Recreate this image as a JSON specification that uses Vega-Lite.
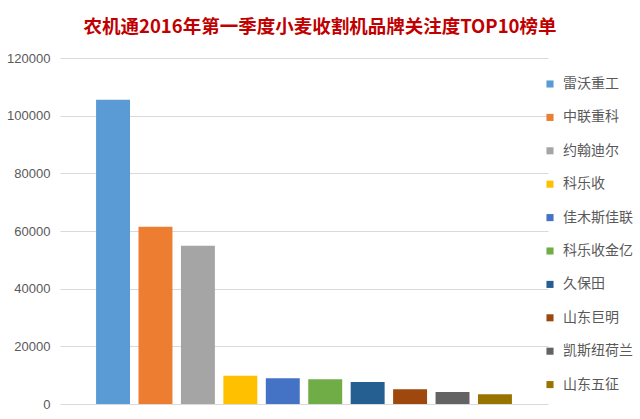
{
  "$schema": "https://vega.github.io/schema/vega-lite/v6.json",
  "width": 488,
  "height": 346,
  "autosize": {"type": "none"},
  "padding": {"left": 60, "top": 58, "right": 92, "bottom": 15},
  "background": "white",
  "title": {
    "text": "农机通2016年第一季度小麦收割机品牌关注度TOP10榜单",
    "font": "Noto Sans CJK SC",
    "fontSize": 18.5,
    "fontWeight": "bold",
    "color": "#C00000",
    "anchor": "middle",
    "frame": "group",
    "dx": 16,
    "offset": 16
  },
  "data": {
    "values": [
      {"brand": "雷沃重工", "value": 105500},
      {"brand": "中联重科", "value": 61500},
      {"brand": "约翰迪尔", "value": 54900},
      {"brand": "科乐收", "value": 9800},
      {"brand": "佳木斯佳联", "value": 8900},
      {"brand": "科乐收金亿", "value": 8600},
      {"brand": "久保田", "value": 7650},
      {"brand": "山东巨明", "value": 5100},
      {"brand": "凯斯纽荷兰", "value": 4170},
      {"brand": "山东五征", "value": 3400}
    ]
  },
  "mark": {"type": "bar"},
  "encoding": {
    "x": {
      "field": "brand",
      "type": "nominal",
      "sort": null,
      "scale": {"paddingInner": 0.2, "paddingOuter": 0.85},
      "axis": null
    },
    "y": {
      "field": "value",
      "type": "quantitative",
      "scale": {"domain": [0, 120000]},
      "axis": {
        "title": null,
        "values": [0, 20000, 40000, 60000, 80000, 100000, 120000],
        "format": "d",
        "domain": false,
        "ticks": false,
        "labelPadding": 10,
        "labelFont": "Liberation Sans",
        "labelFontSize": 13,
        "labelColor": "#595959",
        "gridColor": "#D9D9D9",
        "gridWidth": 1
      }
    },
    "color": {
      "field": "brand",
      "type": "nominal",
      "sort": null,
      "scale": {
        "domain": ["雷沃重工", "中联重科", "约翰迪尔", "科乐收", "佳木斯佳联", "科乐收金亿", "久保田", "山东巨明", "凯斯纽荷兰", "山东五征"],
        "range": ["#5B9BD5", "#ED7D31", "#A5A5A5", "#FFC000", "#4472C4", "#70AD47", "#255E91", "#9E480E", "#636363", "#997300"]
      },
      "legend": {
        "orient": "none",
        "legendX": 483,
        "legendY": 19,
        "title": null,
        "symbolType": "square",
        "symbolSize": 50,
        "symbolStrokeWidth": 0,
        "labelFont": "Noto Sans CJK SC",
        "labelFontSize": 14,
        "labelColor": "#595959",
        "labelOffset": 6,
        "rowPadding": 19.4,
        "padding": 0
      }
    }
  },
  "config": {"view": {"stroke": null}}
}
